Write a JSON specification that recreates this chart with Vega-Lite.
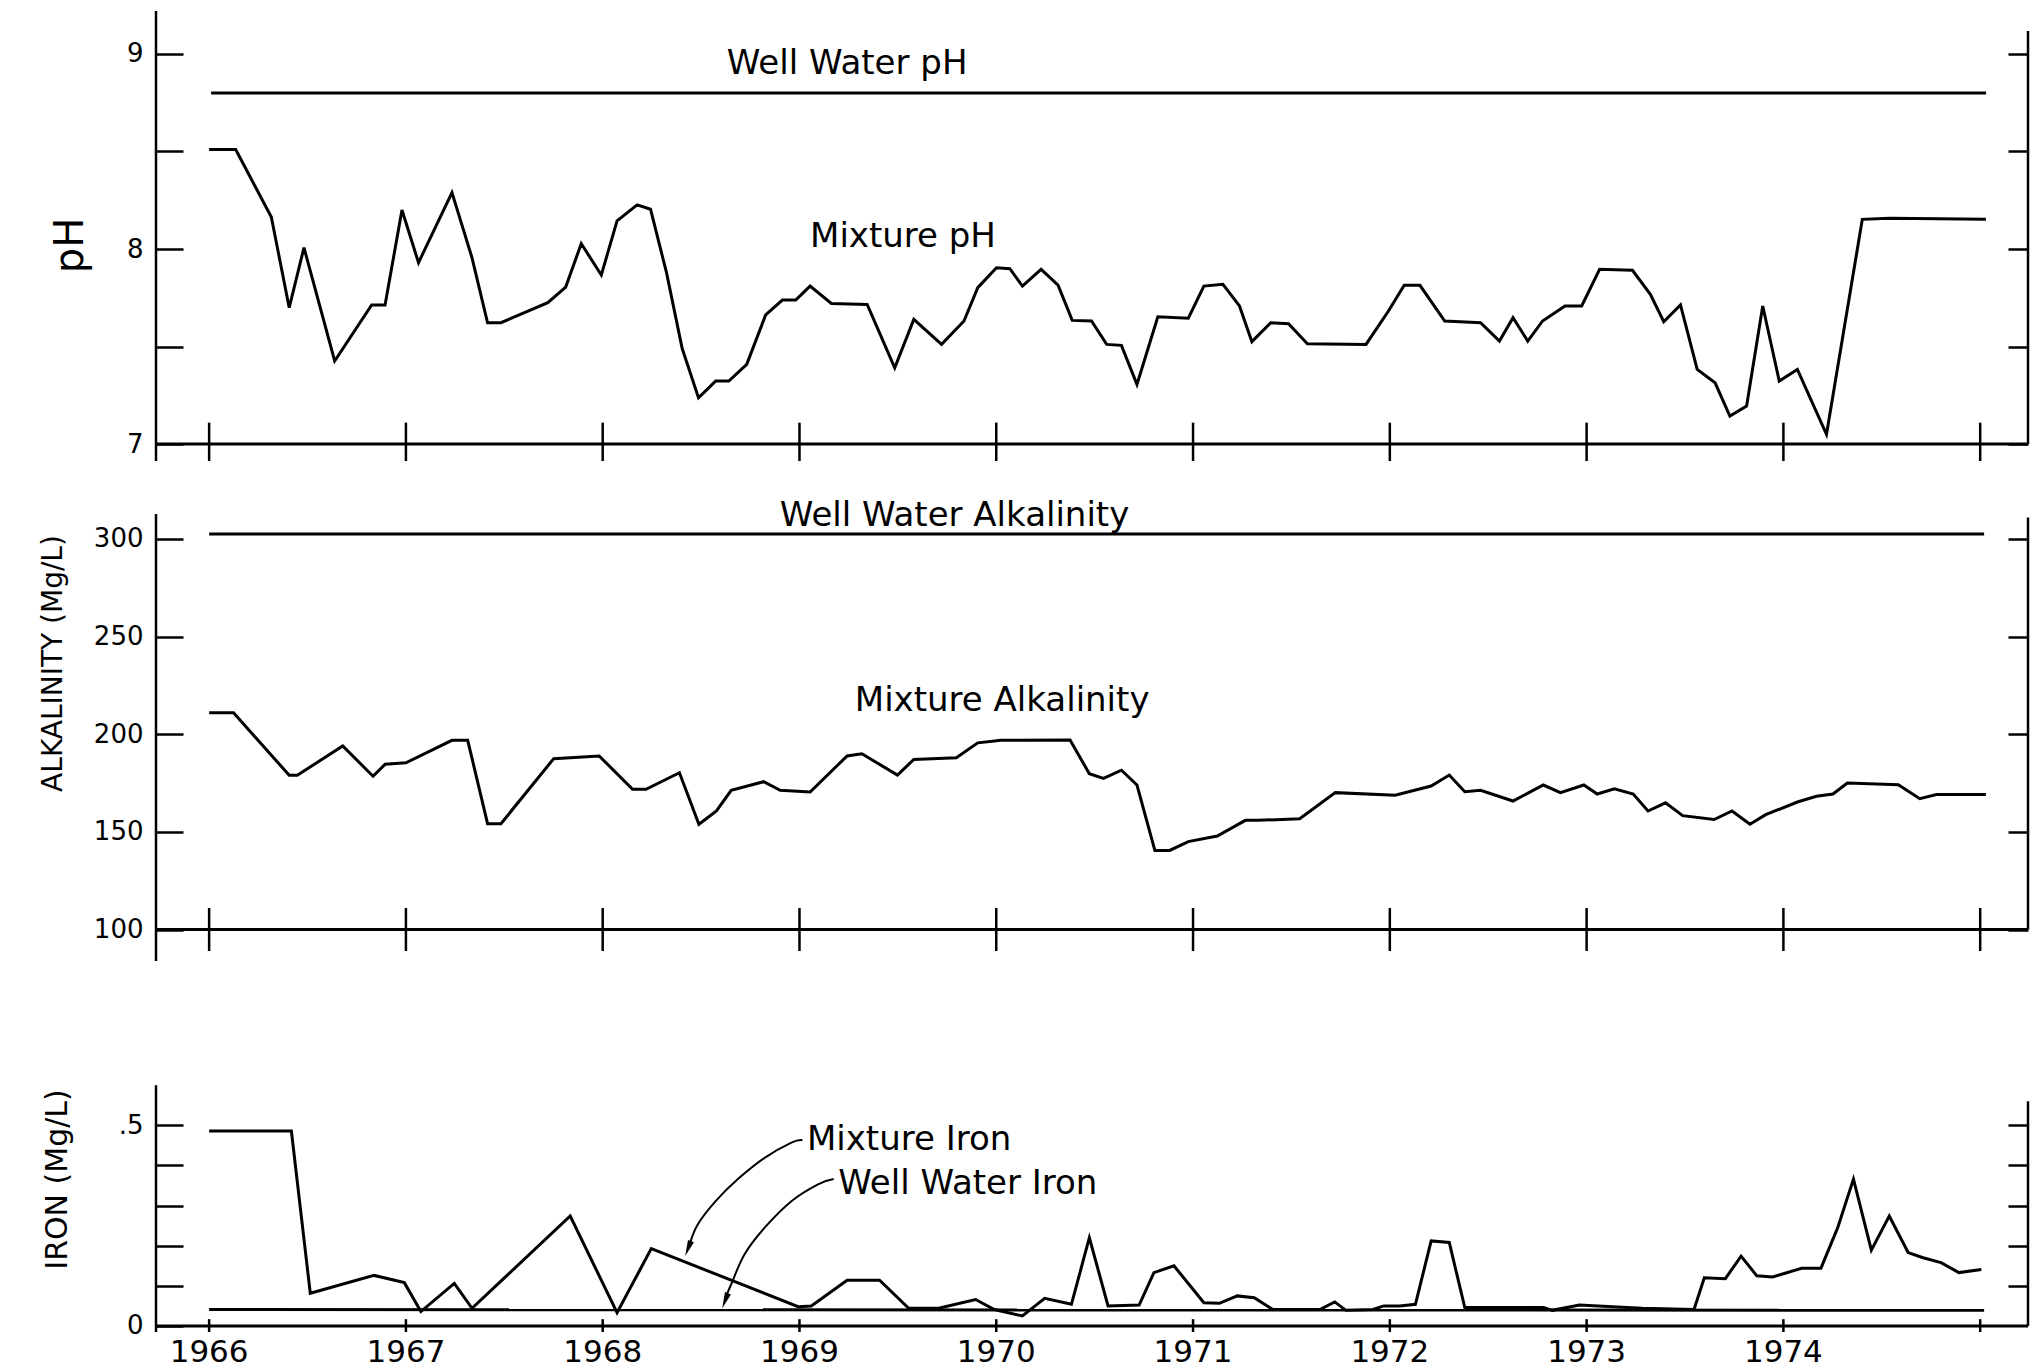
{
 "$schema": "https://vega.github.io/schema/vega-lite/v6.json",
 "background": "white",
 "padding": {"left": 39, "top": 9, "right": 5, "bottom": 2},
 "spacing": 0,
 "config": {
  "view": {"stroke": null},
  "font": "DejaVu Sans",
  "axis": {"labelFont": "DejaVu Sans", "titleFont": "DejaVu Sans", "labelColor": "black", "titleColor": "black", "tickColor": "black", "domainColor": "black", "titleFontWeight": "normal", "grid": false, "tickWidth": 2.5, "labelFontSize": 26, "labelOverlap": false}
 },
 "datasets": {
  "ph": [
   {"year":1966.0,"value":8.51,"series":"Mixture pH"},{"year":1966.135,"value":8.51,"series":"Mixture pH"},{"year":1966.316,"value":8.164,"series":"Mixture pH"},{"year":1966.407,"value":7.699,"series":"Mixture pH"},{"year":1966.482,"value":8.007,"series":"Mixture pH"},{"year":1966.638,"value":7.426,"series":"Mixture pH"},{"year":1966.826,"value":7.713,"series":"Mixture pH"},{"year":1966.894,"value":7.713,"series":"Mixture pH"},{"year":1966.98,"value":8.2,"series":"Mixture pH"},{"year":1967.064,"value":7.93,"series":"Mixture pH"},{"year":1967.234,"value":8.289,"series":"Mixture pH"},{"year":1967.336,"value":7.955,"series":"Mixture pH"},{"year":1967.415,"value":7.622,"series":"Mixture pH"},{"year":1967.483,"value":7.622,"series":"Mixture pH"},{"year":1967.721,"value":7.725,"series":"Mixture pH"},{"year":1967.812,"value":7.805,"series":"Mixture pH"},{"year":1967.891,"value":8.027,"series":"Mixture pH"},{"year":1967.993,"value":7.867,"series":"Mixture pH"},{"year":1968.073,"value":8.144,"series":"Mixture pH"},{"year":1968.175,"value":8.226,"series":"Mixture pH"},{"year":1968.243,"value":8.204,"series":"Mixture pH"},{"year":1968.324,"value":7.88,"series":"Mixture pH"},{"year":1968.404,"value":7.49,"series":"Mixture pH"},{"year":1968.487,"value":7.237,"series":"Mixture pH"},{"year":1968.574,"value":7.323,"series":"Mixture pH"},{"year":1968.641,"value":7.323,"series":"Mixture pH"},{"year":1968.732,"value":7.409,"series":"Mixture pH"},{"year":1968.828,"value":7.662,"series":"Mixture pH"},{"year":1968.913,"value":7.738,"series":"Mixture pH"},{"year":1968.981,"value":7.738,"series":"Mixture pH"},{"year":1969.054,"value":7.81,"series":"Mixture pH"},{"year":1969.162,"value":7.721,"series":"Mixture pH"},{"year":1969.344,"value":7.716,"series":"Mixture pH"},{"year":1969.484,"value":7.391,"series":"Mixture pH"},{"year":1969.581,"value":7.639,"series":"Mixture pH"},{"year":1969.722,"value":7.511,"series":"Mixture pH"},{"year":1969.836,"value":7.631,"series":"Mixture pH"},{"year":1969.906,"value":7.802,"series":"Mixture pH"},{"year":1970.001,"value":7.904,"series":"Mixture pH"},{"year":1970.069,"value":7.899,"series":"Mixture pH"},{"year":1970.133,"value":7.81,"series":"Mixture pH"},{"year":1970.228,"value":7.896,"series":"Mixture pH"},{"year":1970.314,"value":7.815,"series":"Mixture pH"},{"year":1970.386,"value":7.634,"series":"Mixture pH"},{"year":1970.484,"value":7.631,"series":"Mixture pH"},{"year":1970.561,"value":7.511,"series":"Mixture pH"},{"year":1970.636,"value":7.506,"series":"Mixture pH"},{"year":1970.715,"value":7.306,"series":"Mixture pH"},{"year":1970.821,"value":7.653,"series":"Mixture pH"},{"year":1970.976,"value":7.645,"series":"Mixture pH"},{"year":1971.055,"value":7.81,"series":"Mixture pH"},{"year":1971.152,"value":7.819,"series":"Mixture pH"},{"year":1971.236,"value":7.708,"series":"Mixture pH"},{"year":1971.299,"value":7.525,"series":"Mixture pH"},{"year":1971.395,"value":7.622,"series":"Mixture pH"},{"year":1971.485,"value":7.617,"series":"Mixture pH"},{"year":1971.581,"value":7.514,"series":"Mixture pH"},{"year":1971.879,"value":7.511,"series":"Mixture pH"},{"year":1971.993,"value":7.682,"series":"Mixture pH"},{"year":1972.073,"value":7.814,"series":"Mixture pH"},{"year":1972.153,"value":7.814,"series":"Mixture pH"},{"year":1972.279,"value":7.631,"series":"Mixture pH"},{"year":1972.461,"value":7.622,"series":"Mixture pH"},{"year":1972.557,"value":7.528,"series":"Mixture pH"},{"year":1972.626,"value":7.648,"series":"Mixture pH"},{"year":1972.701,"value":7.528,"series":"Mixture pH"},{"year":1972.776,"value":7.631,"series":"Mixture pH"},{"year":1972.89,"value":7.708,"series":"Mixture pH"},{"year":1972.975,"value":7.708,"series":"Mixture pH"},{"year":1973.066,"value":7.896,"series":"Mixture pH"},{"year":1973.233,"value":7.891,"series":"Mixture pH"},{"year":1973.324,"value":7.768,"series":"Mixture pH"},{"year":1973.392,"value":7.627,"series":"Mixture pH"},{"year":1973.477,"value":7.713,"series":"Mixture pH"},{"year":1973.562,"value":7.383,"series":"Mixture pH"},{"year":1973.653,"value":7.314,"series":"Mixture pH"},{"year":1973.728,"value":7.144,"series":"Mixture pH"},{"year":1973.813,"value":7.195,"series":"Mixture pH"},{"year":1973.895,"value":7.708,"series":"Mixture pH"},{"year":1973.979,"value":7.323,"series":"Mixture pH"},{"year":1974.071,"value":7.383,"series":"Mixture pH"},{"year":1974.219,"value":7.05,"series":"Mixture pH"},{"year":1974.401,"value":8.152,"series":"Mixture pH"},{"year":1974.538,"value":8.157,"series":"Mixture pH"},{"year":1975.029,"value":8.152,"series":"Mixture pH"},
   {"year":1966.01,"value":8.8,"series":"Well Water pH"},{"year":1975.03,"value":8.8,"series":"Well Water pH"}
  ],
  "alk": [
   {"year":1966.0,"value":211,"series":"Mixture Alkalinity"},{"year":1966.124,"value":211,"series":"Mixture Alkalinity"},{"year":1966.407,"value":179,"series":"Mixture Alkalinity"},{"year":1966.448,"value":179,"series":"Mixture Alkalinity"},{"year":1966.679,"value":194,"series":"Mixture Alkalinity"},{"year":1966.833,"value":178.5,"series":"Mixture Alkalinity"},{"year":1966.894,"value":184.6,"series":"Mixture Alkalinity"},{"year":1967.0,"value":185.4,"series":"Mixture Alkalinity"},{"year":1967.234,"value":196.9,"series":"Mixture Alkalinity"},{"year":1967.314,"value":196.9,"series":"Mixture Alkalinity"},{"year":1967.415,"value":154.2,"series":"Mixture Alkalinity"},{"year":1967.483,"value":154.2,"series":"Mixture Alkalinity"},{"year":1967.751,"value":187.5,"series":"Mixture Alkalinity"},{"year":1967.982,"value":188.9,"series":"Mixture Alkalinity"},{"year":1968.152,"value":171.8,"series":"Mixture Alkalinity"},{"year":1968.22,"value":171.8,"series":"Mixture Alkalinity"},{"year":1968.39,"value":180.3,"series":"Mixture Alkalinity"},{"year":1968.489,"value":153.9,"series":"Mixture Alkalinity"},{"year":1968.578,"value":160.7,"series":"Mixture Alkalinity"},{"year":1968.653,"value":171.3,"series":"Mixture Alkalinity"},{"year":1968.818,"value":175.7,"series":"Mixture Alkalinity"},{"year":1968.902,"value":171.3,"series":"Mixture Alkalinity"},{"year":1969.054,"value":170.4,"series":"Mixture Alkalinity"},{"year":1969.242,"value":188.9,"series":"Mixture Alkalinity"},{"year":1969.317,"value":190,"series":"Mixture Alkalinity"},{"year":1969.498,"value":179.1,"series":"Mixture Alkalinity"},{"year":1969.581,"value":187.1,"series":"Mixture Alkalinity"},{"year":1969.797,"value":188,"series":"Mixture Alkalinity"},{"year":1969.906,"value":195.6,"series":"Mixture Alkalinity"},{"year":1970.024,"value":196.9,"series":"Mixture Alkalinity"},{"year":1970.375,"value":197,"series":"Mixture Alkalinity"},{"year":1970.473,"value":179.8,"series":"Mixture Alkalinity"},{"year":1970.545,"value":177.4,"series":"Mixture Alkalinity"},{"year":1970.636,"value":181.6,"series":"Mixture Alkalinity"},{"year":1970.715,"value":174,"series":"Mixture Alkalinity"},{"year":1970.806,"value":140.5,"series":"Mixture Alkalinity"},{"year":1970.881,"value":140.5,"series":"Mixture Alkalinity"},{"year":1970.976,"value":145,"series":"Mixture Alkalinity"},{"year":1971.123,"value":147.9,"series":"Mixture Alkalinity"},{"year":1971.266,"value":155.9,"series":"Mixture Alkalinity"},{"year":1971.327,"value":155.9,"series":"Mixture Alkalinity"},{"year":1971.542,"value":156.7,"series":"Mixture Alkalinity"},{"year":1971.723,"value":170.1,"series":"Mixture Alkalinity"},{"year":1972.027,"value":168.8,"series":"Mixture Alkalinity"},{"year":1972.21,"value":173.5,"series":"Mixture Alkalinity"},{"year":1972.302,"value":179.1,"series":"Mixture Alkalinity"},{"year":1972.381,"value":170.6,"series":"Mixture Alkalinity"},{"year":1972.461,"value":171.3,"series":"Mixture Alkalinity"},{"year":1972.626,"value":165.8,"series":"Mixture Alkalinity"},{"year":1972.78,"value":174,"series":"Mixture Alkalinity"},{"year":1972.867,"value":170.1,"series":"Mixture Alkalinity"},{"year":1972.986,"value":174,"series":"Mixture Alkalinity"},{"year":1973.054,"value":169.4,"series":"Mixture Alkalinity"},{"year":1973.141,"value":172,"series":"Mixture Alkalinity"},{"year":1973.237,"value":169.4,"series":"Mixture Alkalinity"},{"year":1973.312,"value":160.7,"series":"Mixture Alkalinity"},{"year":1973.401,"value":164.9,"series":"Mixture Alkalinity"},{"year":1973.488,"value":158.3,"series":"Mixture Alkalinity"},{"year":1973.648,"value":156.3,"series":"Mixture Alkalinity"},{"year":1973.739,"value":160.7,"series":"Mixture Alkalinity"},{"year":1973.83,"value":153.9,"series":"Mixture Alkalinity"},{"year":1973.91,"value":158.8,"series":"Mixture Alkalinity"},{"year":1974.071,"value":165.3,"series":"Mixture Alkalinity"},{"year":1974.168,"value":168.2,"series":"Mixture Alkalinity"},{"year":1974.252,"value":169.4,"series":"Mixture Alkalinity"},{"year":1974.325,"value":175,"series":"Mixture Alkalinity"},{"year":1974.584,"value":174.2,"series":"Mixture Alkalinity"},{"year":1974.693,"value":167,"series":"Mixture Alkalinity"},{"year":1974.778,"value":169.1,"series":"Mixture Alkalinity"},{"year":1975.029,"value":169.1,"series":"Mixture Alkalinity"},
   {"year":1966.0,"value":302.5,"series":"Well Water Alkalinity"},{"year":1975.02,"value":302.5,"series":"Well Water Alkalinity"}
  ],
  "iron": [
   {"year":1966.0,"value":0.486,"series":"Mixture Iron"},{"year":1966.418,"value":0.486,"series":"Mixture Iron"},{"year":1966.514,"value":0.0815,"series":"Mixture Iron"},{"year":1966.838,"value":0.126,"series":"Mixture Iron"},{"year":1966.992,"value":0.108,"series":"Mixture Iron"},{"year":1967.076,"value":0.036,"series":"Mixture Iron"},{"year":1967.246,"value":0.106,"series":"Mixture Iron"},{"year":1967.336,"value":0.044,"series":"Mixture Iron"},{"year":1967.835,"value":0.274,"series":"Mixture Iron"},{"year":1968.073,"value":0.033,"series":"Mixture Iron"},{"year":1968.247,"value":0.193,"series":"Mixture Iron"},{"year":1968.993,"value":0.048,"series":"Mixture Iron"},{"year":1969.06,"value":0.05,"series":"Mixture Iron"},{"year":1969.242,"value":0.114,"series":"Mixture Iron"},{"year":1969.407,"value":0.114,"series":"Mixture Iron"},{"year":1969.555,"value":0.044,"series":"Mixture Iron"},{"year":1969.707,"value":0.044,"series":"Mixture Iron"},{"year":1969.895,"value":0.066,"series":"Mixture Iron"},{"year":1969.99,"value":0.041,"series":"Mixture Iron"},{"year":1970.133,"value":0.025,"series":"Mixture Iron"},{"year":1970.246,"value":0.069,"series":"Mixture Iron"},{"year":1970.382,"value":0.054,"series":"Mixture Iron"},{"year":1970.473,"value":0.22,"series":"Mixture Iron"},{"year":1970.568,"value":0.05,"series":"Mixture Iron"},{"year":1970.726,"value":0.052,"series":"Mixture Iron"},{"year":1970.801,"value":0.133,"series":"Mixture Iron"},{"year":1970.903,"value":0.15,"series":"Mixture Iron"},{"year":1971.055,"value":0.058,"series":"Mixture Iron"},{"year":1971.134,"value":0.0565,"series":"Mixture Iron"},{"year":1971.225,"value":0.075,"series":"Mixture Iron"},{"year":1971.311,"value":0.0705,"series":"Mixture Iron"},{"year":1971.406,"value":0.041,"series":"Mixture Iron"},{"year":1971.644,"value":0.041,"series":"Mixture Iron"},{"year":1971.72,"value":0.06,"series":"Mixture Iron"},{"year":1971.777,"value":0.039,"series":"Mixture Iron"},{"year":1971.914,"value":0.041,"series":"Mixture Iron"},{"year":1971.97,"value":0.05,"series":"Mixture Iron"},{"year":1972.05,"value":0.05,"series":"Mixture Iron"},{"year":1972.13,"value":0.054,"series":"Mixture Iron"},{"year":1972.21,"value":0.212,"series":"Mixture Iron"},{"year":1972.302,"value":0.208,"series":"Mixture Iron"},{"year":1972.381,"value":0.046,"series":"Mixture Iron"},{"year":1972.781,"value":0.046,"series":"Mixture Iron"},{"year":1972.826,"value":0.039,"series":"Mixture Iron"},{"year":1972.963,"value":0.052,"series":"Mixture Iron"},{"year":1973.282,"value":0.044,"series":"Mixture Iron"},{"year":1973.546,"value":0.041,"series":"Mixture Iron"},{"year":1973.598,"value":0.12,"series":"Mixture Iron"},{"year":1973.705,"value":0.118,"series":"Mixture Iron"},{"year":1973.785,"value":0.174,"series":"Mixture Iron"},{"year":1973.865,"value":0.125,"series":"Mixture Iron"},{"year":1973.945,"value":0.122,"series":"Mixture Iron"},{"year":1974.093,"value":0.144,"series":"Mixture Iron"},{"year":1974.191,"value":0.144,"series":"Mixture Iron"},{"year":1974.276,"value":0.245,"series":"Mixture Iron"},{"year":1974.356,"value":0.366,"series":"Mixture Iron"},{"year":1974.447,"value":0.189,"series":"Mixture Iron"},{"year":1974.538,"value":0.274,"series":"Mixture Iron"},{"year":1974.634,"value":0.183,"series":"Mixture Iron"},{"year":1974.71,"value":0.17,"series":"Mixture Iron"},{"year":1974.801,"value":0.158,"series":"Mixture Iron"},{"year":1974.892,"value":0.133,"series":"Mixture Iron"},{"year":1975.006,"value":0.141,"series":"Mixture Iron"},
   {"year":1966.0,"value":0.041,"series":"Well Water Iron"},{"year":1975.02,"value":0.039,"series":"Well Water Iron"}
  ],
  "years": [{"year":1966},{"year":1967},{"year":1968},{"year":1969},{"year":1970},{"year":1971},{"year":1972},{"year":1973},{"year":1974},{"year":1975}],
  "ph_text": [{"year":1969.242,"value":8.947,"label":"Well Water pH"},{"year":1969.526,"value":8.06,"label":"Mixture pH"}],
  "alk_text": [{"year":1969.788,"value":311.8,"label":"Well Water Alkalinity"},{"year":1970.03,"value":217,"label":"Mixture Alkalinity"}],
  "iron_text": [{"year":1969.038,"value":0.463,"label":"Mixture Iron"},{"year":1969.197,"value":0.353,"label":"Well Water Iron"}],
  "arrows": [
   {"arrow":"Mixture Iron","order":1,"year":1969.015,"value":0.463},{"arrow":"Mixture Iron","order":2,"year":1968.959,"value":0.457},{"arrow":"Mixture Iron","order":3,"year":1968.823,"value":0.419},{"arrow":"Mixture Iron","order":4,"year":1968.687,"value":0.366},{"arrow":"Mixture Iron","order":5,"year":1968.574,"value":0.311},{"arrow":"Mixture Iron","order":6,"year":1968.483,"value":0.253},{"arrow":"Mixture Iron","order":7,"year":1968.443,"value":0.205},
   {"arrow":"Well Water Iron","order":1,"year":1969.174,"value":0.366},{"arrow":"Well Water Iron","order":2,"year":1969.094,"value":0.353},{"arrow":"Well Water Iron","order":3,"year":1968.959,"value":0.311},{"arrow":"Well Water Iron","order":4,"year":1968.823,"value":0.245},{"arrow":"Well Water Iron","order":5,"year":1968.721,"value":0.179},{"arrow":"Well Water Iron","order":6,"year":1968.653,"value":0.104},{"arrow":"Well Water Iron","order":7,"year":1968.628,"value":0.075}
  ],
  "arrowheads": [{"arrow":"Mixture Iron","year":1968.434,"value":0.193},{"arrow":"Well Water Iron","year":1968.622,"value":0.063}]
 },
 "vconcat": [
  {
   "width": 1872, "height": 476,
   "resolve": {"axis": {"y": "independent"}},
   "layer": [
    {"data": {"name": "ph"}, "mark": {"type": "line", "color": "black", "strokeWidth": 3},
     "encoding": {
      "x": {"field": "year", "type": "quantitative", "scale": {"domain": [1965.73, 1975.243], "nice": false, "zero": false}, "axis": null},
      "y": {"field": "value", "type": "quantitative", "scale": {"domain": [6.78, 9.22], "nice": false, "zero": false},
        "axis": {"orient": "left", "values": [7, 7.5, 8, 8.5, 9], "labelExpr": "datum.value % 1 === 0 ? format(datum.value, 'd') : ''", "domain": false, "tickSize": -27, "labelPadding": 40, "title": "pH", "titleFontSize": 40, "titleAngle": -90, "titleX": -86, "titleY": 234, "titleAlign": "center", "titleBaseline": "middle"}},
      "detail": {"field": "series"}
     }},
    {"data": {"values": [{}]}, "mark": {"type": "rule", "color": "black", "strokeWidth": 3},
     "encoding": {"y": {"datum": 7, "type": "quantitative", "axis": null}}},
    {"data": {"name": "years"}, "mark": {"type": "rule", "color": "black", "strokeWidth": 2.5},
     "encoding": {"x": {"field": "year", "type": "quantitative", "axis": null}, "y": {"datum": 6.913, "type": "quantitative", "axis": null}, "y2": {"datum": 7.11}}},
    {"data": {"values": [{}]}, "mark": {"type": "rule", "color": "black", "strokeWidth": 2.5},
     "encoding": {"x": {"datum": 1965.73, "type": "quantitative", "axis": null}, "y": {"datum": 6.913, "type": "quantitative", "axis": null}, "y2": {"datum": 9.22}}},
    {"data": {"values": [{}]}, "mark": {"type": "rule", "color": "black", "strokeWidth": 2.5},
     "encoding": {"x": {"datum": 1975.243, "type": "quantitative", "axis": null},
      "y": {"datum": 7, "type": "quantitative", "axis": {"orient": "right", "values": [7, 7.5, 8, 8.5, 9], "domain": false, "labels": false, "tickSize": -20, "title": null}},
      "y2": {"datum": 9.118}}},
    {"data": {"name": "ph_text"}, "mark": {"type": "text", "fontSize": 34, "align": "center", "baseline": "middle", "color": "black", "font": "DejaVu Sans"},
     "encoding": {"x": {"field": "year", "type": "quantitative", "axis": null}, "y": {"field": "value", "type": "quantitative", "axis": null}, "text": {"field": "label"}}}
   ]
  },
  {
   "width": 1872, "height": 534,
   "resolve": {"axis": {"y": "independent"}},
   "layer": [
    {"data": {"name": "alk"}, "mark": {"type": "line", "color": "black", "strokeWidth": 3},
     "encoding": {
      "x": {"field": "year", "type": "quantitative", "scale": {"domain": [1965.73, 1975.243], "nice": false, "zero": false}, "axis": null},
      "y": {"field": "value", "type": "quantitative", "scale": {"domain": [53.14, 326.63], "nice": false, "zero": false},
        "axis": {"orient": "left", "values": [100, 150, 200, 250, 300], "format": "d", "domain": false, "tickSize": -27, "labelPadding": 40, "title": "ALKALINITY (Mg/L)", "titleFontSize": 28, "titleAngle": -90, "titleX": -103, "titleY": 176, "titleAlign": "center", "titleBaseline": "middle"}},
      "detail": {"field": "series"}
     }},
    {"data": {"values": [{}]}, "mark": {"type": "rule", "color": "black", "strokeWidth": 3},
     "encoding": {"y": {"datum": 100, "type": "quantitative", "axis": null}}},
    {"data": {"name": "years"}, "mark": {"type": "rule", "color": "black", "strokeWidth": 2.5},
     "encoding": {"x": {"field": "year", "type": "quantitative", "axis": null}, "y": {"datum": 89, "type": "quantitative", "axis": null}, "y2": {"datum": 111}}},
    {"data": {"values": [{}]}, "mark": {"type": "rule", "color": "black", "strokeWidth": 2.5},
     "encoding": {"x": {"datum": 1965.73, "type": "quantitative", "axis": null}, "y": {"datum": 83.9, "type": "quantitative", "axis": null}, "y2": {"datum": 312.8}}},
    {"data": {"values": [{}]}, "mark": {"type": "rule", "color": "black", "strokeWidth": 2.5},
     "encoding": {"x": {"datum": 1975.243, "type": "quantitative", "axis": null},
      "y": {"datum": 100, "type": "quantitative", "axis": {"orient": "right", "values": [100, 150, 200, 250, 300], "domain": false, "labels": false, "tickSize": -20, "title": null}},
      "y2": {"datum": 311}}},
    {"data": {"name": "alk_text"}, "mark": {"type": "text", "fontSize": 34, "align": "center", "baseline": "middle", "color": "black", "font": "DejaVu Sans"},
     "encoding": {"x": {"field": "year", "type": "quantitative", "axis": null}, "y": {"field": "value", "type": "quantitative", "axis": null}, "text": {"field": "label"}}}
   ]
  },
  {
   "width": 1872, "height": 311,
   "resolve": {"axis": {"y": "independent"}},
   "layer": [
    {"data": {"name": "iron"}, "mark": {"type": "line", "color": "black", "strokeWidth": 3},
     "encoding": {
      "x": {"field": "year", "type": "quantitative", "scale": {"domain": [1965.73, 1975.243], "nice": false, "zero": false}, "axis": null},
      "y": {"field": "value", "type": "quantitative", "scale": {"domain": [-0.015, 0.76], "nice": false, "zero": false},
        "axis": {"orient": "left", "values": [0, 0.1, 0.2, 0.3, 0.4, 0.5], "labelExpr": "datum.value === 0 ? '0' : (abs(datum.value - 0.5) < 0.001 ? '.5' : '')", "domain": false, "tickSize": -27, "labelPadding": 40, "title": "IRON (Mg/L)", "titleFontSize": 30, "titleAngle": -90, "titleX": -99, "titleY": 158, "titleAlign": "center", "titleBaseline": "middle"}},
      "detail": {"field": "series"}
     }},
    {"data": {"values": [{}]}, "mark": {"type": "rule", "color": "black", "strokeWidth": 3},
     "encoding": {"y": {"datum": 0, "type": "quantitative", "axis": null}}},
    {"data": {"name": "years"}, "mark": {"type": "rule", "color": "black", "strokeWidth": 2.5},
     "encoding": {"x": {"field": "year", "type": "quantitative", "axis": null}, "y": {"datum": -0.015, "type": "quantitative", "axis": null}, "y2": {"datum": 0.017}}},
    {"data": {"name": "years"}, "transform": [{"filter": "datum.year < 1975"}],
     "mark": {"type": "text", "fontSize": 31, "align": "center", "baseline": "top", "dy": 6, "color": "black", "font": "DejaVu Sans"},
     "encoding": {"x": {"field": "year", "type": "quantitative", "axis": null}, "y": {"datum": -0.015, "type": "quantitative", "axis": null}, "text": {"field": "year", "type": "quantitative", "format": "d"}}},
    {"data": {"values": [{}]}, "mark": {"type": "rule", "color": "black", "strokeWidth": 2.5},
     "encoding": {"x": {"datum": 1965.73, "type": "quantitative", "axis": null}, "y": {"datum": -0.015, "type": "quantitative", "axis": null}, "y2": {"datum": 0.6}}},
    {"data": {"values": [{}]}, "mark": {"type": "rule", "color": "black", "strokeWidth": 2.5},
     "encoding": {"x": {"datum": 1975.243, "type": "quantitative", "axis": null},
      "y": {"datum": 0, "type": "quantitative", "axis": {"orient": "right", "values": [0.1, 0.2, 0.3, 0.4, 0.5], "domain": false, "labels": false, "tickSize": -20, "title": null}},
      "y2": {"datum": 0.56}}},
    {"data": {"name": "arrows"}, "mark": {"type": "line", "color": "black", "strokeWidth": 2, "interpolate": "cardinal"},
     "encoding": {"x": {"field": "year", "type": "quantitative", "axis": null}, "y": {"field": "value", "type": "quantitative", "axis": null}, "detail": {"field": "arrow"}, "order": {"field": "order"}}},
    {"data": {"name": "arrowheads"}, "mark": {"type": "point", "shape": "M0,-1L0.4,1L-0.4,1Z", "size": 256, "angle": 201, "filled": true, "color": "black", "opacity": 1},
     "encoding": {"x": {"field": "year", "type": "quantitative", "axis": null}, "y": {"field": "value", "type": "quantitative", "axis": null}}},
    {"data": {"name": "iron_text"}, "mark": {"type": "text", "fontSize": 34, "align": "left", "baseline": "middle", "color": "black", "font": "DejaVu Sans"},
     "encoding": {"x": {"field": "year", "type": "quantitative", "axis": null}, "y": {"field": "value", "type": "quantitative", "axis": null}, "text": {"field": "label"}}}
   ]
  }
 ]
}
